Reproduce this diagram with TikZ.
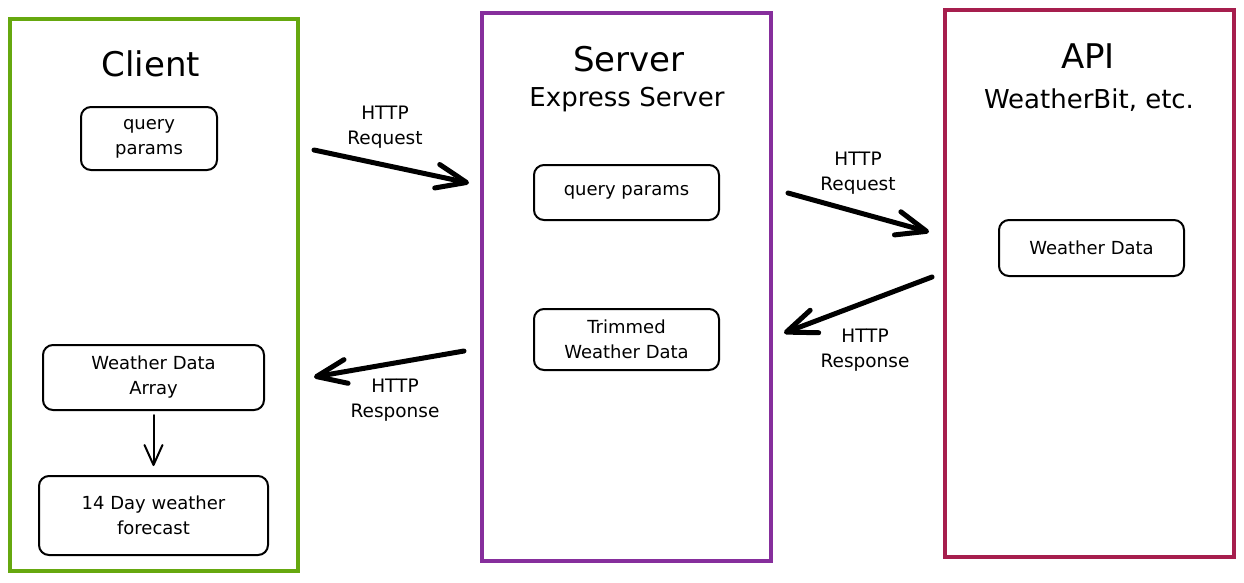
\documentclass[tikz,border=0pt]{standalone}
\usepackage{fontspec}
\setmainfont{DejaVu Sans}
\usetikzlibrary{arrows.meta}
\definecolor{cgreen}{HTML}{66A80F}
\definecolor{cpurple}{HTML}{862E9C}
\definecolor{ccrimson}{HTML}{A61E4D}
\begin{document}
\begin{tikzpicture}[x=1pt,y=-1pt,
  container/.style={draw, line width=4pt, rectangle, inner sep=0pt},
  box/.style={draw, line width=2pt, rounded corners=10pt, align=center, inner sep=0pt, font=\fontsize{18}{25}\selectfont},
  title/.style={anchor=base, font=\fontsize{34}{40}\selectfont},
  subtitle/.style={anchor=base, font=\fontsize{26}{30}\selectfont},
  lbl/.style={align=center, font=\fontsize{18.5}{25}\selectfont},
  flow/.style={line width=5pt, line cap=round, -{Straight Barb[length=30pt,width=24pt,round]}},
  small/.style={line width=2pt, line cap=round, -{Straight Barb[length=20pt,width=18pt,round]}}
]
\useasboundingbox[fill=white] (0,0) rectangle (1244,582);

% containers
\node[container, draw=cgreen, minimum width=288pt, minimum height=552pt] (client) at (154,295) {};
\node[container, draw=cpurple, minimum width=289pt, minimum height=548pt] (server) at (626.5,287) {};
\node[container, draw=ccrimson, minimum width=289pt, minimum height=547pt] (api) at (1089.5,283.5) {};

% titles
\node[title] (tclient) at (151,76) {Client};
\node[title] (tserver) at (629,71) {Server};
\node[subtitle] (sserver) at (627,106) {Express Server};
\node[title] (tapi) at (1088,68) {API};
\node[subtitle] (sapi) at (1089,108) {WeatherBit, etc.};

% boxes
\node[box, minimum width=136pt, minimum height=63pt] (cq) at (149,138.5) {query\\params};
\node[box, minimum width=221pt, minimum height=65pt] (wda) at (153.5,377.5) {Weather Data\\Array};
\node[box, minimum width=229pt, minimum height=79pt] (fc) at (153.5,515.5) {14 Day weather\\forecast};
\node[box, minimum width=185pt, minimum height=55pt] (sq) at (626.5,192.5) {query params};
\node[box, minimum width=185pt, minimum height=61pt] (tw) at (626.5,339.5) {Trimmed\\Weather Data};
\node[box, minimum width=185pt, minimum height=56pt] (aw) at (1091.5,248) {Weather Data};

% arrow end points
\coordinate (r1s) at (314,150);
\coordinate (r1e) at (469,183);
\coordinate (r2s) at (788,193);
\coordinate (r2e) at (929,232);
\coordinate (p1s) at (932,277);
\coordinate (p1e) at (784,333);
\coordinate (p2s) at (464,351);
\coordinate (p2e) at (314,377);

\draw[flow] (r1s) -- (r1e);
\draw[flow] (r2s) -- (r2e);
\draw[flow] (p1s) -- (p1e);
\draw[flow] (p2s) -- (p2e);
\draw[small, shorten <=4pt, shorten >=9pt] (wda.south) -- (fc.north);

% labels
\node[lbl] (l1) at (385,127) {HTTP\\Request};
\node[lbl] (l2) at (858,173) {HTTP\\Request};
\node[lbl] (l3) at (865,350) {HTTP\\Response};
\node[lbl] (l4) at (395,400) {HTTP\\Response};
\end{tikzpicture}
\end{document}
